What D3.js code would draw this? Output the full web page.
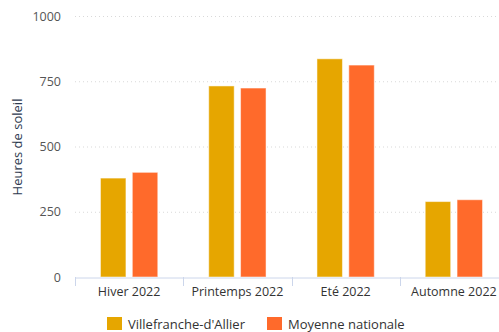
<!DOCTYPE html>
<html>
<head>
<meta charset="utf-8">
<script src="https://cdn.jsdelivr.net/npm/d3@7/dist/d3.min.js"></script>
<style>
  html, body { margin: 0; padding: 0; background: #fff; }
  svg { display: block; font-family: "Open Sans", sans-serif; }
</style>
</head>
<body>
<svg id="chart" width="499" height="332"></svg>
<script>
// Sunshine hours per season, 2022
const seasons = ["Hiver 2022", "Printemps 2022", "Eté 2022", "Automne 2022"];
const seriesNames = ["Villefranche-d'Allier", "Moyenne nationale"];
const villefranche = [379, 732, 836, 289];
const moyenne = [401, 724, 812, 296];
const yTicks = [0, 250, 500, 750, 1000];
const colors = ["#e6a600", "#ff6a2b"];

const svg = d3.select("#chart");
const margin = { left: 75, top: 16, bottom: 277 };
const plotRight = 508;

const x = d3.scaleBand().domain(seasons).range([margin.left, plotRight]).padding(0);
const xInner = d3.scaleBand().domain(seriesNames).range([0, x.bandwidth()])
  .paddingInner(0.2).paddingOuter(0.8);
const y = d3.scaleLinear().domain([0, 1000]).range([margin.bottom, margin.top]);

// dotted horizontal grid
svg.append("g")
  .selectAll("line")
  .data(yTicks.filter(d => d > 0))
  .join("line")
  .attr("x1", margin.left).attr("x2", 499)
  .attr("y1", d => y(d) + 0.5).attr("y2", d => y(d) + 0.5)
  .attr("stroke", "#d9d9d9").attr("stroke-width", 1)
  .attr("stroke-dasharray", "1,3");

// y tick labels
const yAxis = svg.append("g")
  .attr("transform", `translate(${margin.left},0)`)
  .call(d3.axisLeft(y).tickValues(yTicks).tickFormat(d3.format("d")).tickSize(0).tickPadding(14));
yAxis.select(".domain").remove();
yAxis.selectAll("text")
  .attr("fill", "#555").attr("font-size", 12.5)
  .attr("font-family", "Open Sans, sans-serif");

// y title
svg.append("text")
  .attr("transform", `translate(22,147) rotate(-90)`)
  .attr("text-anchor", "middle")
  .attr("fill", "#2e3a4f").attr("font-size", 13)
  .text("Heures de soleil");

// bars
const rows = seasons.map((s, i) => ({ season: s, values: [villefranche[i], moyenne[i]] }));
const groups = svg.append("g").selectAll("g")
  .data(rows).join("g")
  .attr("transform", d => `translate(${x(d.season)},0)`);
groups.selectAll("rect")
  .data(d => d.values.map((v, j) => ({ name: seriesNames[j], value: v, j })))
  .join("rect")
  .attr("x", d => xInner(d.name))
  .attr("width", xInner.bandwidth())
  .attr("y", d => y(d.value))
  .attr("height", d => y(0) - y(d.value))
  .attr("fill", d => colors[d.j])
  .attr("stroke", "rgba(255,255,255,0.5)")
  .attr("stroke-width", 1);

// x axis
const xAxis = svg.append("g")
  .attr("transform", `translate(0,${margin.bottom + 0.5})`)
  .call(d3.axisBottom(x).tickSize(0).tickPadding(10));
xAxis.select(".domain").attr("stroke", "#ccd6eb");
xAxis.selectAll("text")
  .attr("fill", "#333").attr("font-size", 12.5)
  .attr("font-family", "Open Sans, sans-serif");
// category separators
svg.append("g").selectAll("line")
  .data(seasons)
  .join("line")
  .attr("x1", d => Math.round(x(d)) + 0.5).attr("x2", d => Math.round(x(d)) + 0.5)
  .attr("y1", margin.bottom).attr("y2", margin.bottom + 9)
  .attr("stroke", "#ccd6eb");

// legend
const legend = svg.append("g");
const legendX = [107, 267];
seriesNames.forEach((name, j) => {
  legend.append("rect")
    .attr("x", legendX[j]).attr("y", 317)
    .attr("width", 15).attr("height", 13)
    .attr("fill", colors[j]);
  legend.append("text")
    .attr("x", legendX[j] + 21).attr("y", 329)
    .attr("fill", "#333").attr("font-size", 13)
    .text(name);
});
</script>
</body>
</html>
